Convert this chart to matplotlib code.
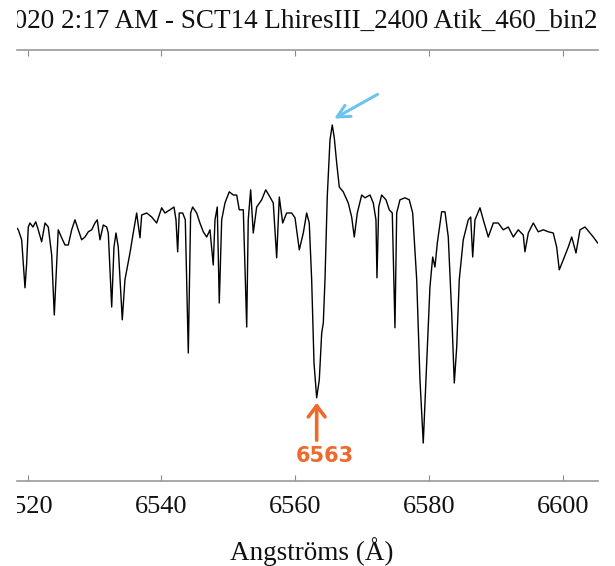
import matplotlib
matplotlib.use("Agg")
import matplotlib.pyplot as plt
from matplotlib.transforms import Bbox

# spectrum (wavelength in Angstrom, relative flux)
wavelength = [
    6518.36, 6518.60, 6519.10, 6519.60, 6519.85, 6520.09, 6520.34, 6520.79, 6521.20, 6521.58,
    6522.09, 6522.59, 6523.08, 6523.59, 6523.98, 6524.33, 6524.57, 6525.08, 6525.58, 6526.07,
    6526.58, 6527.07, 6527.56, 6528.07, 6528.57, 6529.06, 6529.57, 6530.06, 6530.40, 6530.81,
    6531.30, 6531.81, 6532.05, 6532.56, 6532.90, 6533.20, 6533.54, 6534.14, 6534.54, 6535.29,
    6535.78, 6536.29, 6536.79, 6537.04, 6537.79, 6538.54, 6539.28, 6540.03, 6540.52, 6541.27,
    6541.87, 6542.17, 6542.42, 6542.66, 6543.17, 6543.56, 6544.01, 6544.36, 6544.66, 6545.26,
    6545.75, 6546.25, 6546.76, 6547.25, 6547.74, 6548.00, 6548.34, 6548.64, 6549.00, 6549.49,
    6550.13, 6550.73, 6551.24, 6551.63, 6552.23, 6552.74, 6552.97, 6553.33, 6553.72, 6554.23,
    6554.98, 6555.58, 6556.22, 6556.71, 6557.22, 6557.61, 6558.12, 6558.71, 6559.46, 6559.96,
    6560.60, 6561.20, 6561.70, 6562.09, 6562.45, 6562.80, 6563.20, 6563.59, 6563.95, 6564.19,
    6564.44, 6564.78, 6565.19, 6565.53, 6565.83, 6566.19, 6566.58, 6567.17, 6567.92, 6568.43,
    6568.82, 6569.27, 6569.93, 6570.42, 6571.17, 6571.66, 6572.06, 6572.21, 6572.47, 6572.91,
    6573.56, 6574.05, 6574.50, 6574.90, 6575.16, 6575.65, 6576.40, 6577.04, 6577.55, 6578.15,
    6578.64, 6579.13, 6579.54, 6580.13, 6580.54, 6580.88, 6581.23, 6581.88, 6582.38, 6582.87,
    6583.38, 6583.77, 6584.13, 6584.51, 6585.11, 6585.86, 6586.22, 6586.52, 6586.86, 6587.61,
    6588.10, 6588.85, 6589.60, 6590.34, 6591.09, 6591.84, 6592.59, 6593.33, 6594.08, 6594.33,
    6594.83, 6595.58, 6596.32, 6597.07, 6597.82, 6598.56, 6599.07, 6599.46, 6600.06, 6600.81,
    6601.32, 6601.96, 6602.56, 6603.31, 6604.05, 6604.55, 6605.20,
]
flux = [
    0.968, 0.963, 0.938, 0.818, 0.880, 0.970, 0.980, 0.970, 0.983, 0.963,
    0.933, 0.980, 0.970, 0.900, 0.750, 0.880, 0.963, 0.943, 0.925, 0.925,
    0.963, 0.988, 0.963, 0.938, 0.945, 0.958, 0.963, 0.980, 0.988, 0.938,
    0.975, 0.970, 0.955, 0.770, 0.920, 0.955, 0.920, 0.738, 0.838, 0.905,
    0.955, 1.005, 0.943, 1.000, 1.005, 0.995, 0.980, 1.018, 1.005, 1.013,
    1.020, 0.988, 0.908, 1.005, 1.005, 0.988, 0.655, 1.005, 1.020, 1.005,
    0.980, 0.958, 0.945, 0.963, 0.875, 0.988, 1.020, 0.780, 0.988, 1.030,
    1.058, 1.050, 1.050, 1.013, 1.013, 0.720, 0.988, 1.063, 0.955, 1.020,
    1.038, 1.063, 1.045, 1.030, 0.893, 1.045, 0.980, 1.005, 1.005, 0.993,
    0.913, 0.955, 1.005, 0.980, 0.838, 0.630, 0.543, 0.588, 0.705, 0.730,
    0.838, 1.045, 1.188, 1.225, 1.193, 1.130, 1.070, 1.058, 1.030, 0.995,
    0.945, 1.005, 1.050, 1.043, 1.050, 1.030, 0.988, 0.843, 1.020, 1.050,
    1.038, 1.013, 1.005, 0.718, 1.005, 1.038, 1.043, 1.038, 1.005, 0.838,
    0.588, 0.430, 0.588, 0.820, 0.895, 0.870, 0.930, 1.008, 1.008, 0.945,
    0.755, 0.580, 0.670, 0.838, 0.938, 0.988, 0.995, 0.895, 0.988, 1.018,
    0.988, 0.945, 0.980, 0.980, 0.963, 0.970, 0.945, 0.963, 0.950, 0.908,
    0.955, 0.980, 0.958, 0.963, 0.958, 0.955, 0.920, 0.863, 0.888, 0.920,
    0.945, 0.905, 0.963, 0.970, 0.955, 0.945, 0.930,
]
xticks = [6520, 6540, 6560, 6580, 6600]
title = "2020 2:17 AM - SCT14 LhiresIII_2400 Atik_460_bin2"
halpha = 6563

W, H = 615, 566
fig = plt.figure(figsize=(W / 100, H / 100), dpi=100)
plt.rcParams['font.family'] = ['Liberation Serif', 'DejaVu Serif']

# the reference is a crop: everything left of x=17 px is blank
crop = Bbox([[17, 0], [W, H]])

# axes box in pixels: x 17..598, y 50..481 (from top)
ax = fig.add_axes([17.3 / W, (H - 481) / H, (598 - 17.3) / W, (481 - 50) / H])
ax.plot(wavelength, flux, color='black', lw=1.0)
ax.set_xlim(6518.45, 6605.25)
ax.set_ylim(0.335, 1.4125)

for side in ['left', 'right']:
    ax.spines[side].set_visible(False)
for side in ['top', 'bottom']:
    ax.spines[side].set_color('#9a9a9a')
    ax.spines[side].set_linewidth(1.2)
ax.set_yticks([])
ax.set_xticks(xticks)
ax.set_xticklabels([str(t) for t in xticks])
ax.tick_params(axis='x', direction='in', top=True, length=4.5, width=0.8,
               color='#8a8a8a', labelsize=19, pad=11, labelcolor='#111111')
for lbl in ax.get_xticklabels():
    lbl.set_clip_box(crop)
    lbl.set_clip_on(True)

ax.set_xlabel("Angströms (Å)", fontsize=19.5, color='#111111')
ax.xaxis.set_label_coords((312 - 17.3) / (598 - 17.3), -(560 - 481) / 431)
ax.xaxis.label.set_va('baseline')

# title, cut at the left edge like the reference crop
t = fig.text(598 / W, (H - 28) / H, title, ha='right', va='baseline',
             fontsize=19.5, color='#111111')
t.set_clip_box(crop)
t.set_clip_on(True)

# hand-drawn style annotations
ax.annotate('', xy=(6565.44, 1.2375), xytext=(6572.66, 1.305),
            arrowprops=dict(arrowstyle='->,head_length=0.9,head_width=0.45',
                            color='#6cc4ee', lw=2.2))
ax.annotate('', xy=(halpha + 0.2, 0.5375), xytext=(halpha + 0.2, 0.43),
            arrowprops=dict(arrowstyle='->,head_length=0.8,head_width=0.6',
                            color='#ee6a2a', lw=2.6))
ax.text(halpha + 1.44, 0.3975, str(halpha), ha='center', va='center',
        color='#ee6a2a', fontsize=15, fontweight='bold', family=['DejaVu Sans'])

fig.savefig('out.png', dpi=100)
